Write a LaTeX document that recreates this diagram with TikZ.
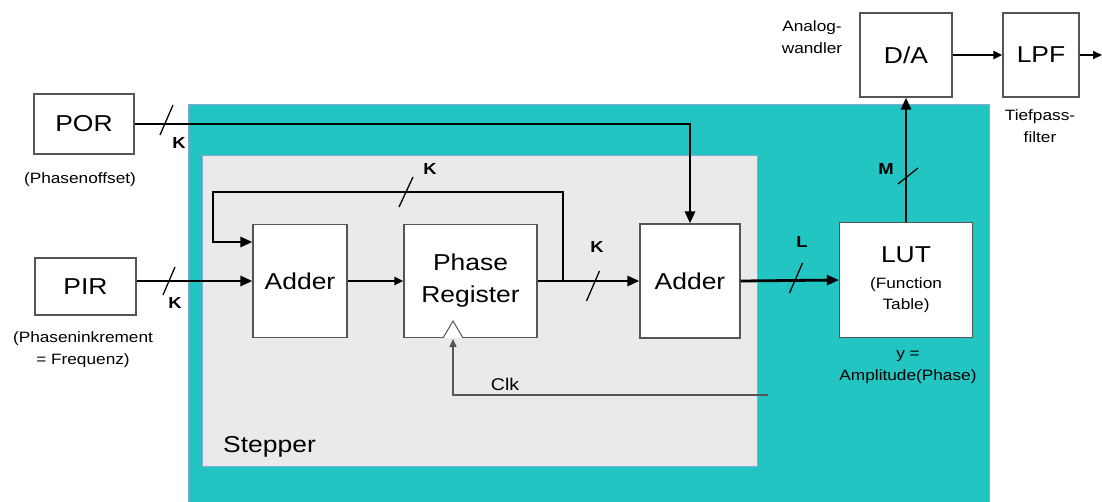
\documentclass[tikz,border=0pt]{standalone}
\usepackage{fontspec}
\setmainfont{Liberation Sans}[FakeStretch=1.15]
\newfontfamily\busfont{Liberation Sans Bold}[FakeStretch=1.15]
\usepackage{tikz}
\usetikzlibrary{calc}
\usetikzlibrary{arrows.meta}
\definecolor{stepteal}{HTML}{22C5C1}
\definecolor{stepgray}{HTML}{EAEAEA}
\definecolor{boxedge}{HTML}{555555}
\definecolor{frameedge}{HTML}{86A8D2}
\tikzset{
  blk/.style={draw=boxedge, line width=1.2pt, fill=white, align=center, inner sep=0pt,
    font=\fontsize{23}{32}\selectfont},
  bus/.style={line width=2.8pt, -{Triangle[length=12pt,width=10pt]}},
  thinbus/.style={line width=2pt, -{Triangle[length=9pt,width=8pt]}},
  buscut/.style={line width=1.3pt},
  buswidth/.style={font=\busfont\fontsize{16}{18}\selectfont, inner sep=0pt},
  note/.style={font=\fontsize{15}{22}\selectfont, align=center, inner sep=0pt}
}

\begin{document}
\begin{tikzpicture}[x=1pt, y=-1pt]
\useasboundingbox (0,0) rectangle (1102,501);
\path[fill=stepteal, draw=frameedge, line width=0.8pt] (188,104) rectangle (989,510);
\path[fill=stepgray, draw=frameedge, line width=0.8pt] (202,155) rectangle (757,466);

\node[blk, minimum width=100pt, minimum height=60pt] (por) at (84,124) {POR};
\node[blk, minimum width=101pt, minimum height=57pt] (pir) at (85.5,286.5) {PIR};
\node[blk, minimum width=94pt, minimum height=113pt] (add1) at (300,281) {Adder};
\node[blk, minimum width=133pt, minimum height=113pt] (preg) at (470.5,281) {Phase\\Register};
\node[blk, minimum width=100pt, minimum height=114pt] (add2) at (690,281) {Adder};
\node[blk, minimum width=133pt, minimum height=115pt, font=\fontsize{15}{21}\selectfont] (lut) at (906,280)
  {{\fontsize{23}{27}\selectfont LUT}\\[5pt](Function\\Table)};
\node[blk, minimum width=92pt, minimum height=84pt] (da) at (906,55) {D/A};
\node[blk, minimum width=76pt, minimum height=84pt] (lpf) at (1041,55) {LPF};

\node[note] (poroff) at (80,180) {(Phasenoffset)};
\node[note] (pirinc) at (83,350) {(Phaseninkrement\\= Frequenz)};
\node[note] (dalbl) at (812,37) {Analog-\\wandler};
\node[note] (lpflbl) at (1040,126) {Tiefpass-\\filter};
\node[note] (lutlbl) at (908,367) {y =\\Amplitude(Phase)};
\node[font=\fontsize{23}{26}\selectfont, anchor=west, inner sep=0pt] (stepper) at (223,447) {Stepper};
\node[font=\fontsize{17}{20}\selectfont, inner sep=0pt] (clklbl) at (505,384) {Clk};

\coordinate (tap) at ($(preg.east)!0.25!(add2.west)$);
\coordinate (fbtop) at (213,192);
\coordinate (clk) at (768,395);
\coordinate (clkin) at (453,339);
\coordinate (out) at (1102,55);

\draw[bus] (por.east) -| (add2.north);
\draw[bus] (pir.east |- add1.west) -- (add1.west);
\draw[thinbus] (add1.east) -- (preg.west);
\draw[bus] (preg.east) -- (add2.west);
\draw[bus] (tap) |- (fbtop) |- ([yshift=39pt]add1.west);
\draw[bus] (add2.east) -- (lut.west);
\draw[bus] (lut.north) -- (lut.north |- da.south);
\draw[thinbus] (da.east) -- (lpf.west);
\draw[thinbus] (lpf.east) -- (out);
\draw[boxedge, line width=1.5pt, -{Triangle[length=8pt,width=7pt]}] (clk) -| (clkin);
\draw[boxedge, fill=white, line width=1pt] (443,338) -- (453,321) -- (463,338);

\draw[buscut] (166.5,120) ++(-6.5,15) -- ++(13,-30);
\draw[buscut] (169,281) ++(-6,14) -- ++(12,-28);
\draw[buscut] (406,192) ++(-7,15) -- ++(14,-30);
\draw[buscut] (593,286) ++(-6.5,15) -- ++(13,-30);
\draw[buscut] (796,278) ++(-6.5,15) -- ++(13,-30);
\draw[buscut] (908,176) ++(-10,8) -- ++(20,-16);

\node[buswidth] (k1) at (179,143) {K};
\node[buswidth] (k2) at (175,303) {K};
\node[buswidth] (k3) at (430,169) {K};
\node[buswidth] (k4) at (597,247) {K};
\node[buswidth] (lbits) at (802,242) {L};
\node[buswidth] (mbits) at (886,169) {M};
\end{tikzpicture}
\end{document}
